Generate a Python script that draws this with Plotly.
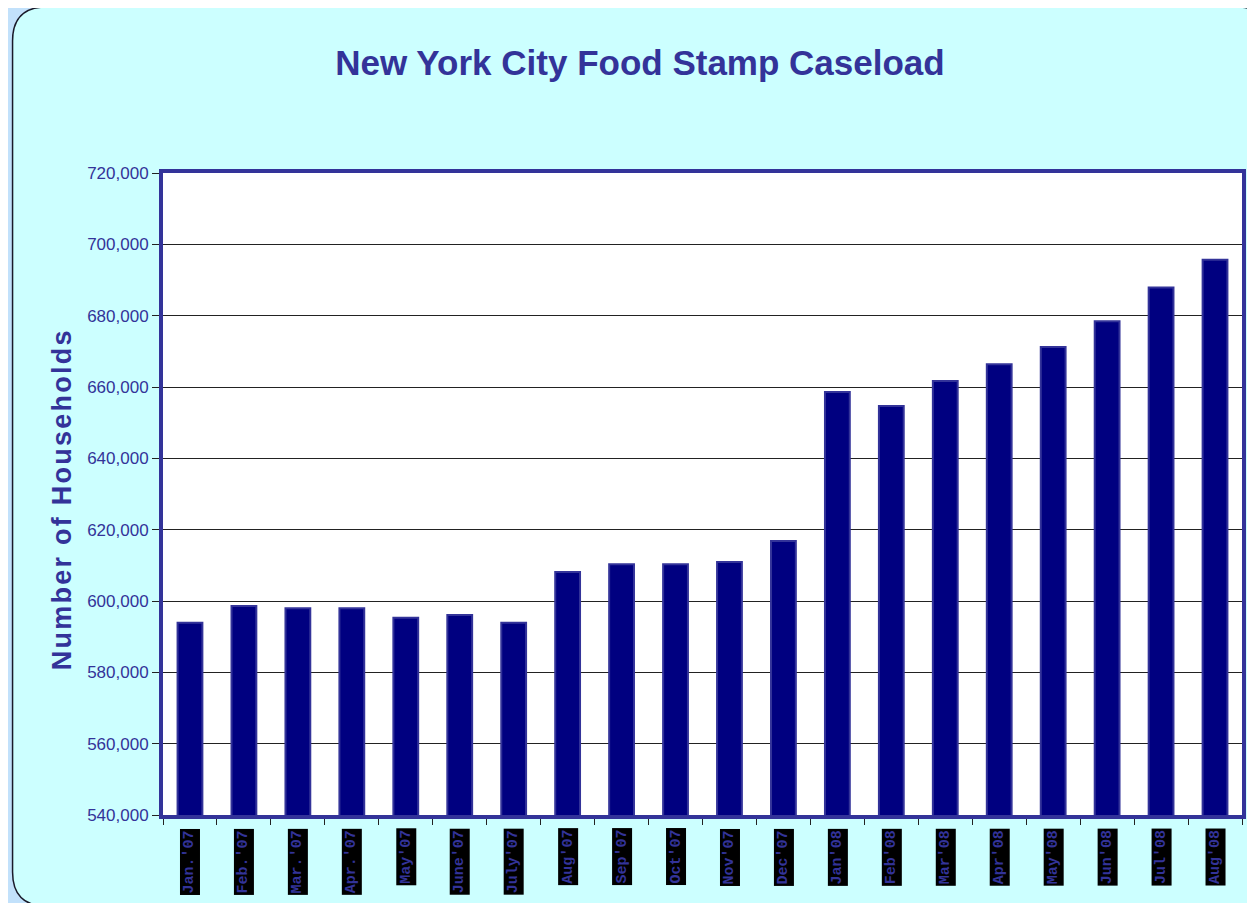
import plotly.graph_objects as go

months = ["Jan.'07", "Feb.'07", "Mar.'07", "Apr.'07", "May'07", "June'07", "July'07",
          "Aug'07", "Sep'07", "Oct'07", "Nov'07", "Dec'07", "Jan'08", "Feb'08",
          "Mar'08", "Apr'08", "May'08", "Jun'08", "Jul'08", "Aug'08"]
households = [593900, 598600, 598000, 598000, 595300, 596100, 593900,
              608100, 610300, 610300, 610900, 616800, 658600, 654700,
              661700, 666400, 671200, 678400, 687900, 695700]
y_ticks = [540000, 560000, 580000, 600000, 620000, 640000, 660000, 680000, 700000, 720000]
y_tick_text = ["540,000", "560,000", "580,000", "600,000", "620,000", "640,000",
               "660,000", "680,000", "700,000", "720,000"]

OFF = 8  # page body margin
W, H = 1255 - OFF, 903 - OFF
# plot area in reference pixel coords: x 163..1246, y 173..815
ML, MR, MT, MB = 163 - OFF, 1255 - 1246, 173 - OFF, 903 - 815
PW, PH = W - ML - MR, H - MT - MB

def px(x):
    return (x - OFF - ML) / PW

def py(y):
    return (H - MB - (y - OFF)) / PH

NAVY = "#333399"

fig = go.Figure()
fig.add_trace(go.Bar(
    x=months, y=households,
    marker=dict(color="#000080", line=dict(color=NAVY, width=2)),
    hoverinfo="x+y",
))

# rounded card
x0, y0, x1, y1, r = 12, 7, 1275, 906, 34
card = (f"M {px(x0)},{py(y0 + r)} "
        f"Q {px(x0)},{py(y0)} {px(x0 + r)},{py(y0)} "
        f"L {px(x1 - r)},{py(y0)} "
        f"Q {px(x1)},{py(y0)} {px(x1)},{py(y0 + r)} "
        f"L {px(x1)},{py(y1 - r)} "
        f"Q {px(x1)},{py(y1)} {px(x1 - r)},{py(y1)} "
        f"L {px(x0 + r)},{py(y1)} "
        f"Q {px(x0)},{py(y1)} {px(x0)},{py(y1 - r)} Z")
shapes = [
    dict(type="path", xref="paper", yref="paper", path=card,
         fillcolor="#CCFFFF", line=dict(color="#1a1a2a", width=1.5), layer="below"),
    dict(type="rect", xref="paper", yref="paper", x0=0, x1=1, y0=0, y1=1,
         fillcolor="white", line=dict(width=0), layer="below"),
]

annotations = []
for m in months:
    annotations.append(dict(
        x=m, xref="x", y=0, yref="paper", yanchor="top", xanchor="center",
        yshift=-13, text=f"<b>{m}</b>", textangle=-90, showarrow=False,
        bgcolor="black", borderpad=1,
        font=dict(family="Liberation Mono, DejaVu Sans Mono, monospace", size=15, color=NAVY),
    ))

ytitle = "\u200a".join("Number of Households")
annotations.append(dict(
    x=px(62), y=py(500), xref="paper", yref="paper", text=f"<b>{ytitle}</b>",
    textangle=-90, showarrow=False, xanchor="center", yanchor="middle",
    font=dict(family="Liberation Sans, Arial, sans-serif", size=27, color=NAVY),
))

fig.update_layout(
    width=W, height=H,
    margin=dict(l=ML, r=MR, t=MT, b=MB, pad=0),
    paper_bgcolor="#C2E1FB",
    plot_bgcolor="white",
    showlegend=False,
    bargap=0.54,
    title=dict(text="<b>New York City Food Stamp Caseload</b>", x=(640 - OFF) / W, xanchor="center",
               y=1 - (63 - OFF) / H, yanchor="middle",
               font=dict(family="Liberation Sans, Arial, sans-serif",
                         size=35, color=NAVY)),
    shapes=shapes,
    annotations=annotations,
    xaxis=dict(
        showticklabels=False, ticks="outside", tickson="boundaries", ticklen=6,
        tickcolor="#222", tickwidth=1,
        showline=True, linecolor=NAVY, linewidth=4, mirror=True,
        showgrid=False, zeroline=False,
    ),
    yaxis=dict(
        range=[540000, 720000], tickvals=y_ticks, ticktext=y_tick_text,
        ticks="outside", ticklen=7, tickcolor="#222", tickwidth=1,
        tickfont=dict(family="Liberation Sans, Arial, sans-serif", size=17, color=NAVY),
        showline=True, linecolor=NAVY, linewidth=4, mirror=True,
        showgrid=True, gridcolor="#222", gridwidth=1, zeroline=False,
    ),
)

fig.write_html("out.html")
